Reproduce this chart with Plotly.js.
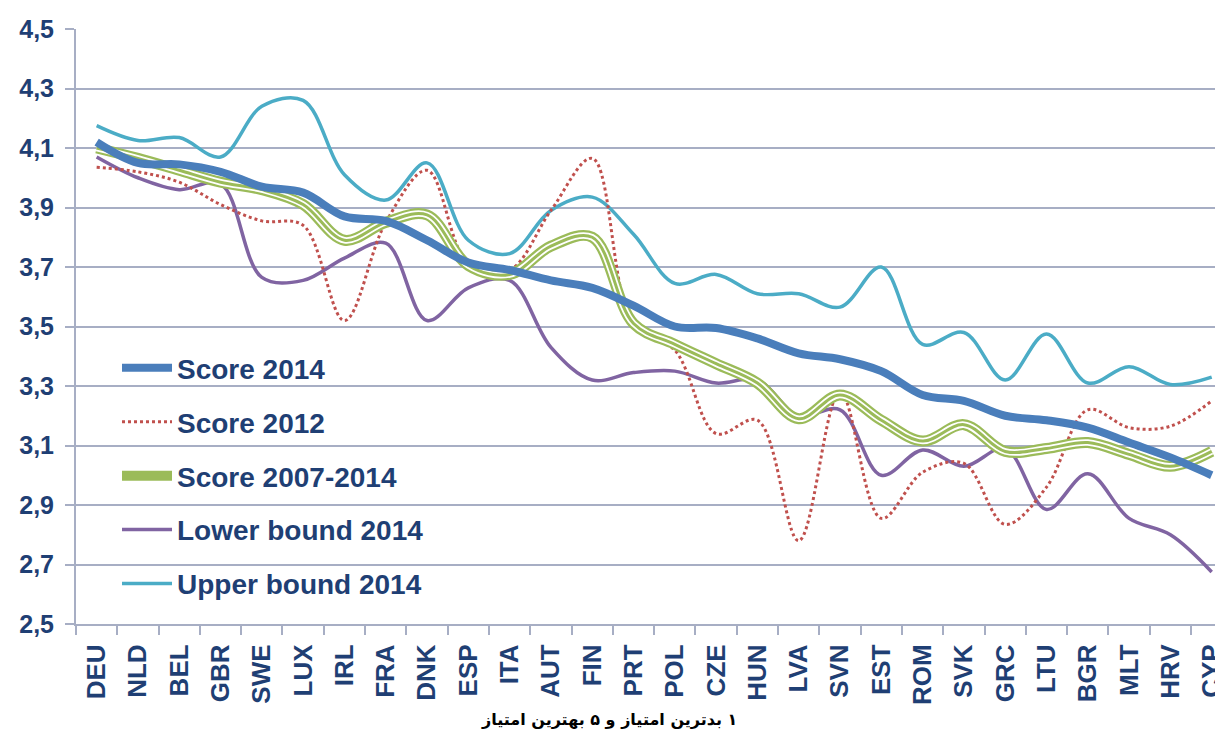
<!DOCTYPE html>
<html>
<head>
<meta charset="utf-8">
<script src="https://cdn.plot.ly/plotly-3.0.1.min.js"></script>
<style>html,body{margin:0;padding:0;background:#fff;}#chart{width:1215px;height:740px;}</style>
</head>
<body>
<div id="chart"></div>
<script>
const countries = ["DEU","NLD","BEL","GBR","SWE","LUX","IRL","FRA","DNK","ESP","ITA","AUT","FIN","PRT","POL","CZE","HUN","LVA","SVN","EST","ROM","SVK","GRC","LTU","BGR","MLT","HRV","CYP"];
const score2014 = [4.12,4.05,4.045,4.02,3.97,3.95,3.87,3.855,3.79,3.715,3.69,3.655,3.63,3.57,3.50,3.495,3.46,3.41,3.39,3.35,3.27,3.25,3.20,3.185,3.16,3.11,3.06,3.00];
const score2012 = [4.035,4.02,3.985,3.91,3.855,3.84,3.52,3.85,4.025,3.71,3.69,3.89,4.065,3.50,3.42,3.14,3.185,2.78,3.28,2.855,3.01,3.04,2.835,2.96,3.22,3.16,3.165,3.25];
const score2007_2014 = [4.10,4.065,4.025,3.985,3.96,3.91,3.79,3.85,3.875,3.705,3.675,3.77,3.80,3.51,3.44,3.375,3.31,3.19,3.27,3.185,3.115,3.17,3.08,3.09,3.11,3.07,3.03,3.08];
const lower2014 = [4.07,4.00,3.96,3.98,3.665,3.655,3.73,3.78,3.52,3.63,3.655,3.43,3.32,3.345,3.35,3.31,3.32,3.20,3.22,3.00,3.085,3.03,3.09,2.885,3.005,2.855,2.80,2.675];
const upper2014 = [4.175,4.125,4.135,4.07,4.24,4.26,4.01,3.925,4.05,3.79,3.745,3.89,3.935,3.81,3.645,3.675,3.61,3.61,3.565,3.70,3.44,3.48,3.32,3.475,3.31,3.365,3.305,3.33];
const yTicks = [2.5,2.7,2.9,3.1,3.3,3.5,3.7,3.9,4.1,4.3,4.5];
const xTitle = "۱ بدترین امتیاز و ۵ بهترین امتیاز";

const navy = "#1F3F74";
const gridCol = "#A7AEC4";

function tr(y, name, line, grp, show) {
  return {x: countries, y: y, name: name, type: "scatter", mode: "lines",
    line: Object.assign({shape: "spline", smoothing: 1}, line),
    legendgroup: grp, showlegend: show, hoverinfo: "skip"};
}

const data = [
  tr(upper2014, "Upper bound 2014", {color: "#4BACC6", width: 3.5}, "g5", true),
  tr(lower2014, "Lower bound 2014", {color: "#8064A2", width: 3.5}, "g4", true),
  tr(score2012, "Score 2012", {color: "#C0504D", width: 3, dash: "dot"}, "g2", true),
  tr(score2007_2014, "Score 2007-2014", {color: "#9BBB59", width: 11}, "g3", true),
  tr(score2007_2014, "Score 2007-2014 inner", {color: "#FFFFFF", width: 6.5}, "g3b", false),
  tr(score2007_2014, "Score 2007-2014 core", {color: "#9BBB59", width: 3}, "g3c", false),
  tr(score2014, "Score 2014", {color: "#4A7EBB", width: 8}, "g1", true)
];
data[6].legendrank = 1; data[2].legendrank = 2; data[3].legendrank = 3; data[1].legendrank = 4; data[0].legendrank = 5;

const layout = {
  width: 1215, height: 740,
  margin: {l: 76, r: 0, t: 29, b: 116, pad: 0},
  paper_bgcolor: "#fff", plot_bgcolor: "#fff",
  separators: ", ",
  font: {family: "Liberation Sans, Arial, sans-serif", color: navy},
  showlegend: true,
  legend: {x: 0.036, y: 0.472, xanchor: "left", yanchor: "top", bgcolor: "rgba(0,0,0,0)",
    font: {size: 28, color: navy, family: "Liberation Sans, Arial, sans-serif", weight: "bold"},
    tracegroupgap: 14.5, traceorder: "grouped", itemwidth: 50},
  xaxis: {type: "category", range: [-0.5, 27.08], showgrid: false, showline: true, linecolor: gridCol, linewidth: 2,
    ticks: "outside", tickson: "boundaries", ticklen: 9, tickcolor: gridCol, tickwidth: 2,
    tickangle: -90, tickfont: {size: 26, color: navy, weight: "bold"}, ticklabelstandoff: 8, zeroline: false, fixedrange: true},
  yaxis: {range: [2.5, 4.5], tickvals: yTicks, tickformat: ".1f", showgrid: true, gridcolor: gridCol, gridwidth: 2,
    showline: true, linecolor: gridCol, linewidth: 2, ticks: "outside", ticklen: 9, tickcolor: gridCol, tickwidth: 2,
    tickfont: {size: 25, color: navy, weight: "bold"}, ticklabelstandoff: 6, zeroline: false, fixedrange: true},
  annotations: [{text: "\u200F" + xTitle, xref: "paper", yref: "paper", x: 0.468, y: -0.161, xanchor: "center", yanchor: "middle",
    showarrow: false, font: {size: 16, color: "#000", family: "DejaVu Sans", weight: "bold"}}]
};

Plotly.newPlot("chart", data, layout, {staticPlot: true});
</script>
</body>
</html>
